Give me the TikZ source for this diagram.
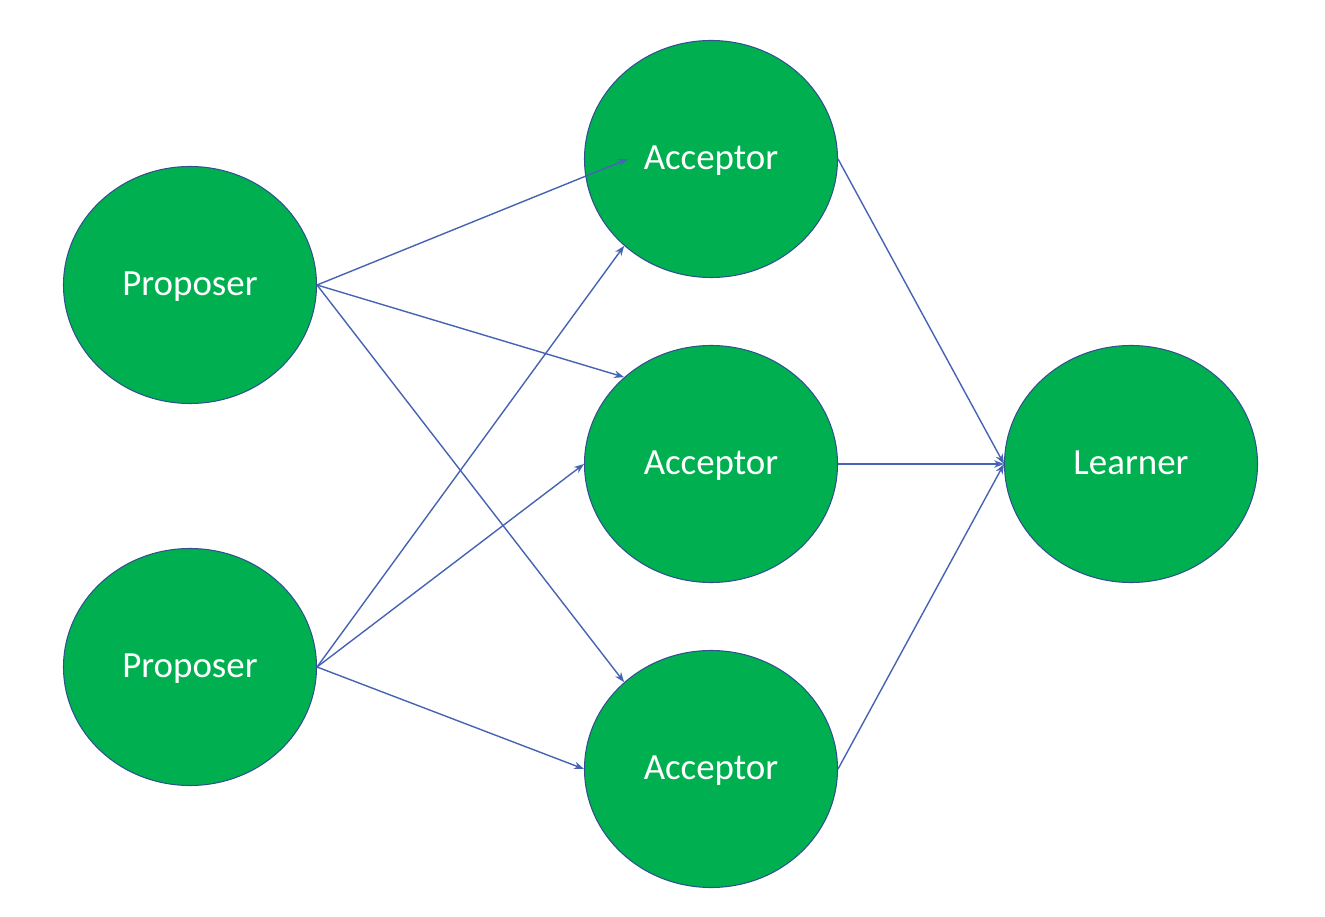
\documentclass[tikz,border=0pt]{standalone}
\usepackage{fontspec}
\setmainfont{Carlito}
\usetikzlibrary{arrows.meta,shapes.geometric}
\definecolor{nodegreen}{HTML}{00B050}
\definecolor{rimblue}{HTML}{2F528F}
\definecolor{linkblue}{HTML}{4763B3}

\begin{document}
\begin{tikzpicture}[auto,
  role node/.style={ellipse,draw=rimblue,fill=nodegreen,line width=0.6pt,
    minimum width=5.06cm,minimum height=4.74cm,inner sep=0pt,
    text=white,font=\fontsize{21}{24}\selectfont,
    text depth=0.05cm},
  link/.style={draw=linkblue,line width=0.8pt,
    -{Stealth[length=0.2cm,width=0.15cm]}}]

  \useasboundingbox (0,0) rectangle (26.5,-18.34);

  \node[role node] (p1) at (3.8,-5.7) {Proposer};
  \node[role node] (p2) at (3.8,-13.34) {Proposer};
  \node[role node] (a1) at (14.22,-3.18) {Acceptor};
  \node[role node] (a2) at (14.22,-9.28) {Acceptor};
  \node[role node] (a3) at (14.22,-15.38) {Acceptor};
  \node[role node] (l1) at (22.62,-9.28) {Learner};
  \coordinate (a1tip) at (12.56,-3.18);

  \draw[link] (p1.east) -- (a1tip);
  \draw[link] (p1.east) -- (a2.135);
  \draw[link] (p1.east) -- (a3.135);
  \draw[link] (p2.east) -- (a1.225);
  \draw[link] (p2.east) -- (a2.west);
  \draw[link] (p2.east) -- (a3.west);

  \draw[link] (a1.east) -- (l1.west);
  \draw[link] (a2.east) -- (l1.west);
  \draw[link] (a3.east) -- (l1.west);
\end{tikzpicture}
\end{document}
